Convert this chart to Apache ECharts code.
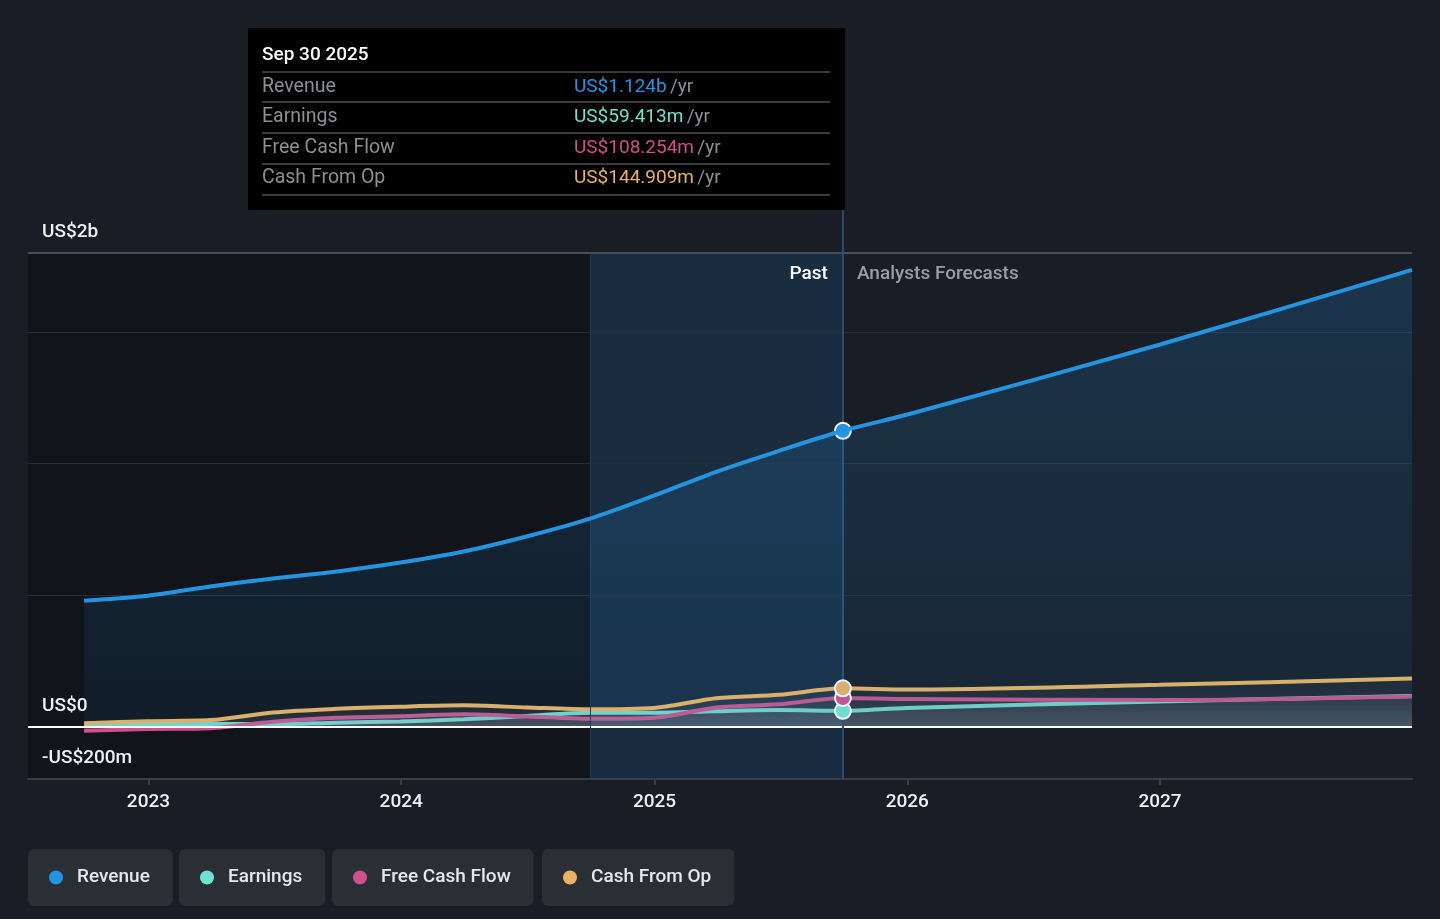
<!DOCTYPE html>
<html>
<head>
<meta charset="utf-8">
<script src="https://cdn.jsdelivr.net/npm/echarts@6/dist/echarts.min.js"></script>
<style>
html,body{margin:0;padding:0;background:#181d26;}
#chart{width:1440px;height:919px;}
</style>
</head>
<body>
<div id="chart"></div>
<script>
// ---- data (US$ millions) ----
const dates = ['2022-09-30','2022-12-31','2023-03-31','2023-06-30','2023-09-30','2023-12-31','2024-03-31','2024-06-30','2024-09-30','2024-12-31','2025-03-31','2025-06-30','2025-09-30','2025-12-31','2026-12-31','2027-12-31'];
const revenue  = [478, 497, 532, 562, 589, 623, 665, 722, 790, 877, 968, 1048, 1124, 1185, 1451, 1736];
const earnings = [5, 8, 10, 8, 14, 19, 27, 40, 52, 52, 58, 62, 59.413, 70, 95, 116];
const fcf      = [-17, -10, -7, 18, 33, 39, 46, 38, 29, 33, 72, 84, 108.254, 104, 100, 114];
const cfo      = [12, 20, 24, 53, 67, 75, 80, 72, 65, 70, 107, 120, 144.909, 140, 158, 182];
const seriesNames = ['Revenue', 'Earnings', 'Free Cash Flow', 'Cash From Op'];
const pastEndDate = '2025-09-30';
const pastEndLabel = 'Sep 30 2025';
const highlightStart = '2024-09-30';
const xMin = '2022-07-11';
const xMax = '2027-12-31';
const yLabelValues = [1800, 0, -200];
const yLabelTexts = ['US$2b', 'US$0', '-US$200m'];
const yGridValues = [500, 1000, 1500];
const regionLabels = ['Past', 'Analysts Forecasts'];

const colors = ['#2394e0', '#6fe3d1', '#cf4f8c', '#e9b361'];
const FONT = 'Roboto, "Noto Sans", sans-serif';
const pastIdx = dates.indexOf(pastEndDate);
const allSeries = [revenue, earnings, fcf, cfo];
const YEAR = 365 * 24 * 3600 * 1000;

function fmtMoney(v) {
  return v >= 1000 ? 'US$' + (v / 1000).toFixed(3) + 'b' : 'US$' + v.toFixed(3) + 'm';
}
function pairs(arr) { return dates.map((d, i) => [d, arr[i]]); }

const chart = echarts.init(document.getElementById('chart'), null, {renderer: 'canvas'});

const yMarkLines = [];
yGridValues.forEach(v => yMarkLines.push({yAxis: v, lineStyle: {color: '#272d36', width: 1, type: 'solid'}, label: {show: false}}));
yLabelValues.forEach((v, i) => {
  const isZero = v === 0;
  const isTop = i === 0;
  yMarkLines.push({
    yAxis: v,
    lineStyle: {color: isZero ? '#ffffff' : (isTop ? '#4a4f57' : '#3a3f47'), width: 2, type: 'solid'},
    label: {show: true, formatter: yLabelTexts[i], position: 'insideStartTop', distance: [14, 11],
      color: '#f0f0f0', fontSize: 19, fontWeight: 500, fontFamily: FONT}
  });
});
yMarkLines.push({xAxis: highlightStart, lineStyle: {color: '#25364a', width: 1, type: 'solid'}, label: {show: false}});
yMarkLines.push({xAxis: pastEndDate, lineStyle: {color: '#2b4e6e', width: 2, type: 'solid'}, label: {show: false}});

function mkSeries(idx, z) {
  const isRev = idx === 0;
  const s = {
    name: seriesNames[idx],
    type: 'line',
    data: pairs(allSeries[idx]),
    smooth: 0.3,
    showSymbol: false,
    symbol: 'none',
    z: z,
    lineStyle: {color: colors[idx], width: 4},
    itemStyle: {color: colors[idx]},
    areaStyle: isRev ? {
      color: new echarts.graphic.LinearGradient(0, 0, 0, 1, [
        {offset: 0, color: 'rgba(35,148,224,0.28)'},
        {offset: 1, color: 'rgba(35,148,224,0.10)'}
      ])
    } : {
      color: new echarts.graphic.LinearGradient(0, 0, 0, 1, [
        {offset: 0, color: 'rgba(120,125,135,0.10)'},
        {offset: 1, color: 'rgba(160,165,175,0.22)'}
      ])
    },
    markPoint: {
      symbol: 'circle', symbolSize: 16, silent: true,
      itemStyle: {color: colors[idx], borderColor: '#ffffff', borderWidth: 2},
      label: {show: false},
      data: [{coord: [pastEndDate, allSeries[idx][pastIdx]]}]
    },
    emphasis: {disabled: true}
  };
  if (isRev) {
    s.markLine = {symbol: 'none', silent: true, animation: false, data: yMarkLines};
    s.markArea = {silent: true, data: [
      [{xAxis: xMin, itemStyle: {color: 'rgba(0,0,0,0.28)'}}, {xAxis: highlightStart}],
      [{xAxis: highlightStart, itemStyle: {color: 'rgba(33,140,230,0.14)'}}, {xAxis: pastEndDate}]
    ]};
  }
  return s;
}

const legendLefts = [28, 179, 332, 542];
const legends = seriesNames.map((n, i) => ({
  data: [n], left: legendLefts[i], top: 849, orient: 'horizontal',
  padding: [19, 23, 19, 21], backgroundColor: '#2a2e35', borderRadius: 6,
  itemWidth: 14, itemHeight: 14, icon: 'circle', itemGap: 0, selectedMode: false,
  textStyle: {color: '#e8e8e8', fontSize: 19, fontWeight: 500, fontFamily: FONT, padding: [0, 0, 0, 9]}
}));

chart.setOption({
  animation: false,
  backgroundColor: '#181d26',
  textStyle: {fontFamily: FONT},
  grid: {left: 28, right: 28, top: 253, bottom: 140, containLabel: false},
  legend: legends,
  xAxis: {
    type: 'time', min: xMin, max: xMax,
    minInterval: YEAR, maxInterval: YEAR,
    axisLine: {show: true, onZero: false, lineStyle: {color: '#3a3f47', width: 2}},
    axisTick: {show: true, length: 6, lineStyle: {color: '#3a3f47', width: 2}},
    axisLabel: {color: '#f0f0f0', fontSize: 19, fontWeight: 500, fontFamily: FONT, margin: 14,
      showMinLabel: false, showMaxLabel: false, formatter: '{yyyy}'},
    splitLine: {show: false}
  },
  yAxis: {type: 'value', min: -200, max: 1800, show: false, splitLine: {show: false}},
  series: [mkSeries(0, 5), mkSeries(1, 2), mkSeries(2, 3), mkSeries(3, 4)]
});

// tooltip-style summary box and region labels
const xPast = chart.convertToPixel({xAxisIndex: 0}, pastEndDate);
const yTop = chart.convertToPixel({yAxisIndex: 0}, yLabelValues[0]);
const boxTop = 28, boxBottom = 210, boxLeft = 248;
const g = [];
g.push({type: 'rect', shape: {x: boxLeft, y: boxTop, width: xPast + 2 - boxLeft, height: boxBottom - boxTop}, style: {fill: '#000000'}, z: 10});
g.push({type: 'line', shape: {x1: xPast, y1: boxBottom, x2: xPast, y2: yTop}, style: {stroke: '#2b4e6e', lineWidth: 2}, z: 9});
g.push({type: 'text', x: 262, y: 55, z: 11, style: {text: pastEndLabel, fill: '#ffffff', font: '500 19px ' + FONT, verticalAlign: 'middle'}});
const rowY = [87, 117, 148, 178];
const sepY = [72, 102, 133, 164, 195];
sepY.forEach(y => g.push({type: 'line', z: 11, shape: {x1: 262, y1: y, x2: 830, y2: y}, style: {stroke: '#3a3a3a', lineWidth: 2}}));
seriesNames.forEach((n, i) => {
  g.push({type: 'text', x: 262, y: rowY[i], z: 11, style: {text: n, fill: '#8c8f94', font: '400 19.5px ' + FONT, verticalAlign: 'middle'}});
  g.push({type: 'text', x: 574, y: rowY[i], z: 11, style: {
    text: '{v|' + fmtMoney(allSeries[i][pastIdx]) + '} {u|/yr}', verticalAlign: 'middle',
    rich: {v: {fill: colors[i], font: '400 19px ' + FONT}, u: {fill: '#8c8f94', font: '400 19px ' + FONT}}
  }});
});
g.push({type: 'text', x: xPast - 15, y: yTop + 21, z: 11, style: {text: regionLabels[0], fill: '#ffffff', font: '500 19px ' + FONT, align: 'right', verticalAlign: 'middle'}});
g.push({type: 'text', x: xPast + 14, y: yTop + 21, z: 11, style: {text: regionLabels[1], fill: '#9a9ea5', font: '500 19px ' + FONT, align: 'left', verticalAlign: 'middle'}});
chart.setOption({graphic: {elements: g}});
</script>
</body>
</html>
